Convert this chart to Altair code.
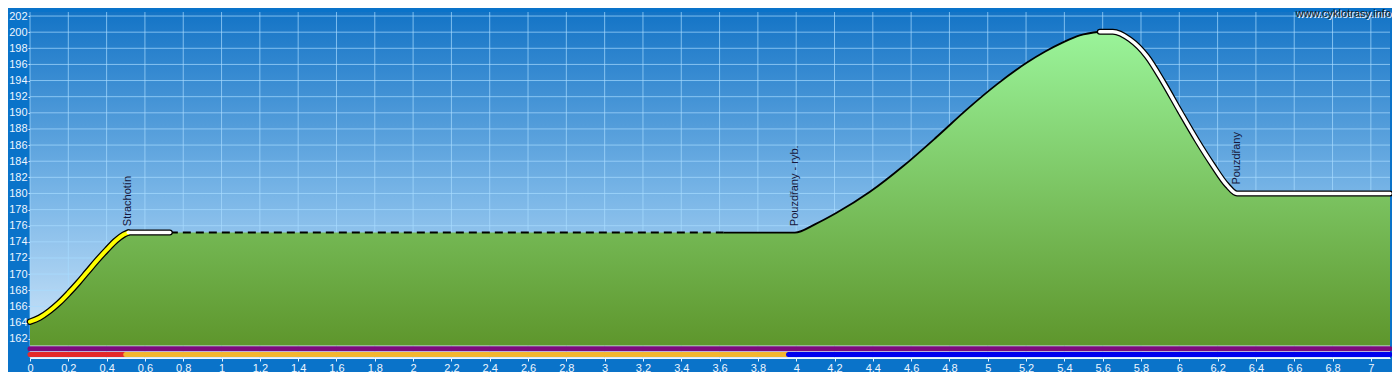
import altair as alt
import pandas as pd

# ---- data ----
km = [0.0, 0.05, 0.10, 0.15, 0.20, 0.25, 0.30, 0.35, 0.40, 0.45, 0.49, 0.513,
      0.73, 3.62, 3.993, 4.10, 4.211, 4.385, 4.559, 4.733, 4.890, 5.046, 5.203,
      5.30, 5.39, 5.48, 5.585, 5.653, 5.742, 5.831, 5.914, 6.003, 6.092,
      6.175, 6.25, 6.301, 7.1]
elev = [164.1, 164.6, 165.4, 166.4, 167.6, 168.9, 170.3, 171.7, 173.0, 174.2, 174.9, 175.15,
        175.15, 175.15, 175.15, 176.2, 177.6, 180.2, 183.4, 187.0, 190.4, 193.5, 196.2,
        197.6, 198.7, 199.6, 200.05, 200.05, 199.1, 197.0, 193.9, 190.2, 186.6,
        183.5, 181.0, 180.0, 180.0]

label_km = [0.513, 3.993, 6.30]
label_elev = [175.95, 175.95, 181.1]
label_text = ["Strachotín", "Pouzdřany - ryb.", "Pouzdřany"]

seg_start = [0.0, 0.513, 0.73, 3.62, 5.585]
seg_end = [0.513, 0.73, 3.62, 5.585, 7.1]
seg_style = ["yellow", "white", "dash", "black", "white"]

surface_start = [0.0, 0.5, 3.96]
surface_end = [0.5, 3.96, 7.1]
surface_color = ["#e52a2a", "#f3b52f", "#0000ee"]
purple_start = [0.0]
purple_end = [7.1]

x_ticks = [0, 0.2, 0.4, 0.6, 0.8, 1, 1.2, 1.4, 1.6, 1.8, 2, 2.2, 2.4, 2.6, 2.8,
           3, 3.2, 3.4, 3.6, 3.8, 4, 4.2, 4.4, 4.6, 4.8, 5, 5.2, 5.4, 5.6, 5.8,
           6, 6.2, 6.4, 6.6, 6.8, 7]
y_ticks = [162, 164, 166, 168, 170, 172, 174, 176, 178, 180, 182, 184, 186, 188,
           190, 192, 194, 196, 198, 200, 202]

X_DOMAIN = [0, 7.1]
Y_DOMAIN = [159.6, 202.5]
BASE = 161.15
PURPLE_Y = 160.75
SURF_Y = 160.03

FONT = "Liberation Sans"
AXIS_COL = "#eef6ff"

xs = alt.Scale(domain=X_DOMAIN, nice=False, zero=False)
ys = alt.Scale(domain=Y_DOMAIN, nice=False, zero=False)

X_AX = alt.Axis(values=x_ticks, format="~g", grid=False, tickSize=3, tickColor=AXIS_COL,
                domainColor=AXIS_COL, labelColor=AXIS_COL, labelFont=FONT, labelFontSize=11,
                labelPadding=1, title=None, labelOverlap=False, labelFlush=False)
Y_AX = alt.Axis(values=y_ticks, grid=False, tickSize=2, tickColor=AXIS_COL,
                domainColor=AXIS_COL, labelColor=AXIS_COL, labelFont=FONT, labelFontSize=11,
                labelPadding=1, title=None, labelOverlap=False, labelFlush=False)


def X(f):
    return alt.X(f, scale=xs, axis=X_AX)


def Y(f):
    return alt.Y(f, scale=ys, axis=Y_AX)


prof = pd.DataFrame({"km": km, "elev": elev, "base": [BASE] * len(km)})

# background gradient
bg = alt.Chart(pd.DataFrame({"x0": [X_DOMAIN[0]], "x1": [X_DOMAIN[1]],
                             "y0": [Y_DOMAIN[0]], "y1": [Y_DOMAIN[1]]})).mark_rect(
    color=alt.Gradient(gradient="linear",
                       stops=[alt.GradientStop(color="#1474c6", offset=0),
                              alt.GradientStop(color="#7db8e8", offset=0.55),
                              alt.GradientStop(color="#d6eafb", offset=1)],
                       x1=0, x2=0, y1=0, y2=1)
).encode(x=X("x0:Q"), x2="x1:Q", y=Y("y0:Q"), y2="y1:Q")

gx = alt.Chart(pd.DataFrame({"t": x_ticks})).mark_rule(
    color="#a8dcff", opacity=0.7, strokeWidth=1).encode(x=X("t:Q"))
gy = alt.Chart(pd.DataFrame({"t": y_ticks})).mark_rule(
    color="#a8dcff", opacity=0.7, strokeWidth=1).encode(y=Y("t:Q"))

area = alt.Chart(prof).mark_area(
    interpolate="monotone",
    color=alt.Gradient(gradient="linear",
                       stops=[alt.GradientStop(color="#9af49a", offset=0),
                              alt.GradientStop(color="#5e962c", offset=1)],
                       x1=0, x2=0, y1=0, y2=1)
).encode(x=X("km:Q"), y=Y("elev:Q"), y2="base:Q")


def seg_df(a, b):
    return prof[(prof.km >= a - 1e-9) & (prof.km <= b + 1e-9)]


layers = [bg, gx, gy, area]

# thin / dashed segments first
for a, b, s in zip(seg_start, seg_end, seg_style):
    if s == "dash":
        layers.append(alt.Chart(seg_df(a, b)).mark_line(
            color="#000000", strokeWidth=2, strokeDash=[8, 5], interpolate="monotone"
        ).encode(x=X("km:Q"), y=Y("elev:Q")))
    elif s == "black":
        layers.append(alt.Chart(seg_df(a, b)).mark_line(
            color="#000000", strokeWidth=1.8, interpolate="monotone"
        ).encode(x=X("km:Q"), y=Y("elev:Q")))
# outlined segments
for a, b, s in zip(seg_start, seg_end, seg_style):
    if s in ("yellow", "white"):
        w = 6.5 if s == "yellow" else 6
        layers.append(alt.Chart(seg_df(a, b)).mark_line(
            color="#000000", strokeWidth=w, strokeCap="round", interpolate="monotone"
        ).encode(x=X("km:Q"), y=Y("elev:Q")))
for a, b, s in zip(seg_start, seg_end, seg_style):
    if s in ("yellow", "white"):
        col = "#ffff00" if s == "yellow" else "#ffffff"
        w = 4 if s == "yellow" else 3.5
        layers.append(alt.Chart(seg_df(a, b)).mark_line(
            color=col, strokeWidth=w, strokeCap="round", interpolate="monotone"
        ).encode(x=X("km:Q"), y=Y("elev:Q")))

labels = alt.Chart(pd.DataFrame({"km": label_km, "elev": label_elev, "t": label_text})).mark_text(
    angle=270, align="left", baseline="middle", font=FONT, fontSize=11, color="#15163a"
).encode(x=X("km:Q"), y=Y("elev:Q"), text="t:N")
layers.append(labels)

purple = alt.Chart(pd.DataFrame({"a": purple_start, "b": purple_end,
                                 "y": [PURPLE_Y] * len(purple_start)})).mark_rule(
    color="#7c0b7c", strokeWidth=5, strokeCap="round").encode(
    x=X("a:Q"), x2="b:Q", y=Y("y:Q"))
layers.append(purple)
for a, b, c in zip(surface_start, surface_end, surface_color):
    layers.append(alt.Chart(pd.DataFrame({"a": [a], "b": [b], "y": [SURF_Y]})).mark_rule(
        color=c, strokeWidth=5, strokeCap="round").encode(
        x=X("a:Q"), x2="b:Q", y=Y("y:Q")))

wm_df = pd.DataFrame({"t": ["www.cyklotrasy.info"]})
wm_shadow = alt.Chart(wm_df).mark_text(
    align="right", baseline="top", font=FONT, fontSize=11, color="#ffffff"
).encode(x=alt.value(1362), y=alt.value(-3), text="t:N")
wm = alt.Chart(wm_df).mark_text(
    align="right", baseline="top", font=FONT, fontSize=11, color="#1a1a1a"
).encode(x=alt.value(1361), y=alt.value(-4), text="t:N")
layers += [wm_shadow, wm]

chart = alt.layer(*layers).properties(
    width=1360, height=346,
    padding={"left": 22, "top": 4, "right": 2, "bottom": 14},
    autosize=alt.AutoSizeParams(type="none"),
    background="#0a73c9",
).configure_view(strokeWidth=0).configure_axis(
    labelOverlap=False, labelFlush=False, labelSeparation=0)

chart.save("out.html", embed_options={"renderer": "svg", "actions": False})
